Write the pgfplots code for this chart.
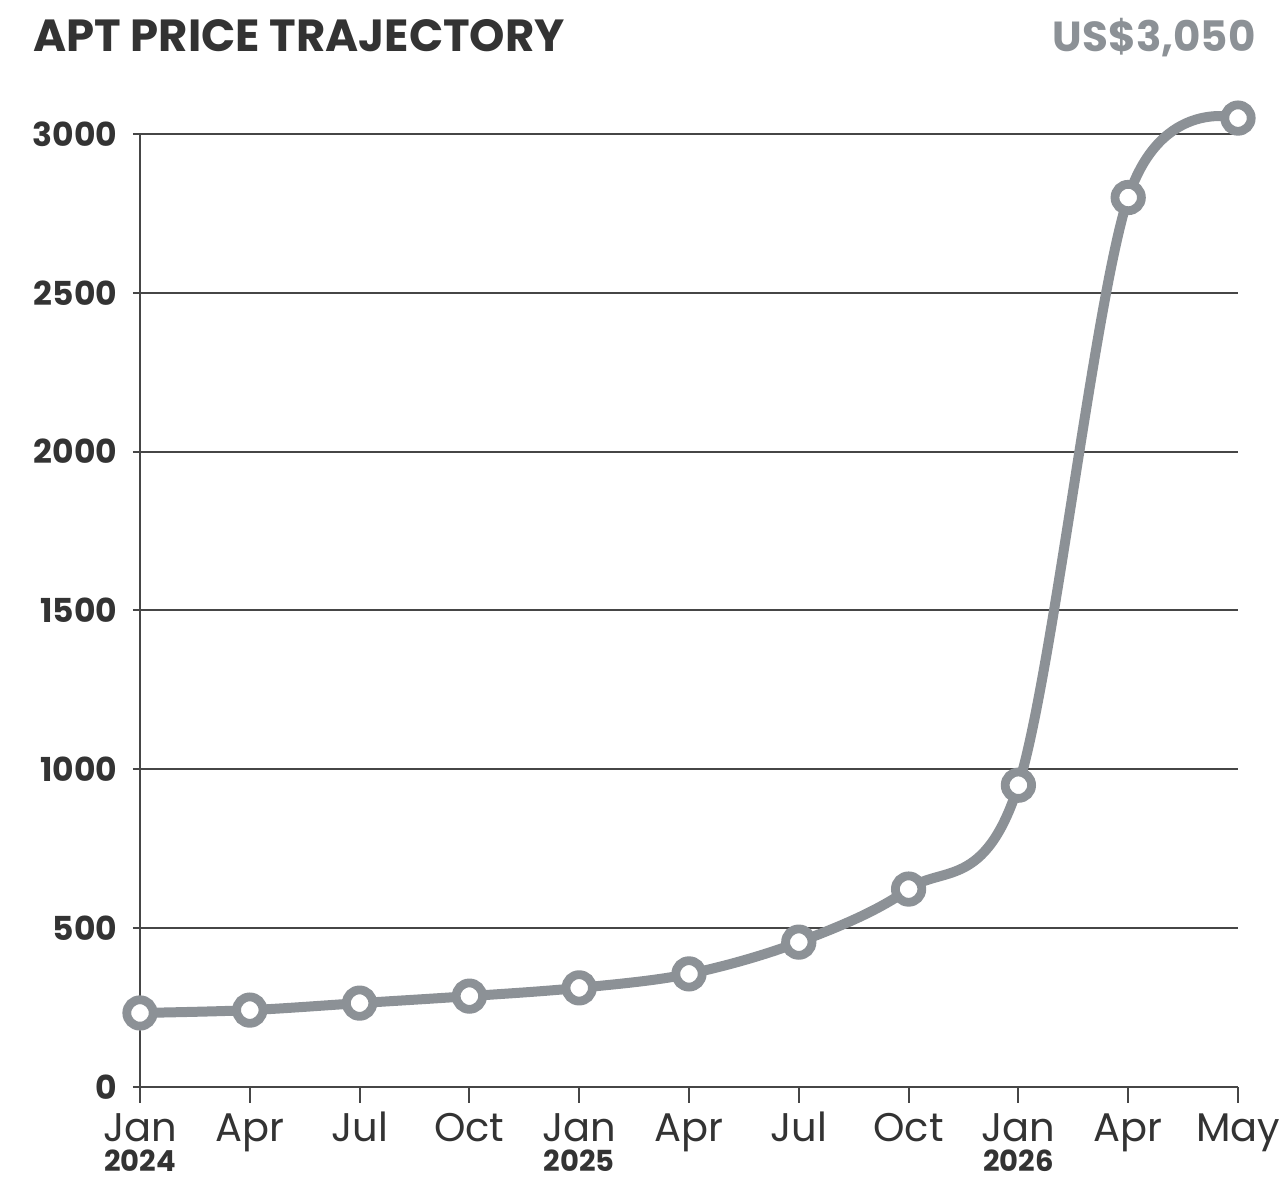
\documentclass[border=0pt]{standalone}
\usepackage{fontspec}
\setmainfont{Poppins}
\usepackage{pgfplots}
\pgfplotsset{compat=1.18}
\usetikzlibrary{calc}
\definecolor{linegray}{RGB}{140,145,150}
\definecolor{inkdark}{RGB}{51,51,51}
\definecolor{gridc}{RGB}{70,70,70}
\newcommand\yr[1]{{\fontsize{14.5}{15}\selectfont\bfseries#1}}
\begin{document}
\begin{tikzpicture}
\begin{axis}[
  width=549pt, height=476.5pt, scale only axis,
  xmin=0, xmax=10, ymin=0, ymax=3000,
  clip=false,
  axis lines*=left,
  axis line style={gridc, line width=1pt},
  ymajorgrids, major grid style={gridc, line width=1pt},
  ytick={0,500,...,3000},
  xtick={0,...,10},
  xticklabels={Jan\\[-1pt]\yr{2024},Apr\\[-1pt]\yr{},Jul\\[-1pt]\yr{},Oct\\[-1pt]\yr{},
    Jan\\[-1pt]\yr{2025},Apr\\[-1pt]\yr{},Jul\\[-1pt]\yr{},Oct\\[-1pt]\yr{},
    Jan\\[-1pt]\yr{2026},Apr\\[-1pt]\yr{},May\\[-1pt]\yr{}},
  tick align=outside,
  xtick style={gridc, line width=1pt, /pgfplots/major tick length=8pt},
  ytick style={gridc, line width=1pt, /pgfplots/major tick length=3.5pt},
  yticklabel style={font=\fontsize{16.5}{16.5}\selectfont\bfseries, text=inkdark,
    anchor=east, inner sep=0pt, xshift=-7pt},
  xticklabel style={font=\fontsize{20}{16}\selectfont, text=inkdark,
    align=center, anchor=base, inner sep=0pt, yshift=-38pt},
  /pgf/number format/assume math mode=true,
  /pgf/number format/1000 sep={},
  scaled y ticks=false,
]
\addplot[linegray, line width=5pt, smooth, tension=0.55,
  mark=*, mark size=6.6pt,
  mark options={fill=white, draw=linegray, line width=4.4pt}]
  coordinates {
  (0,233) (1,242) (2,264) (3,286) (4,312) (5,356)
  (6,456) (7,623) (8,950) (9,2800) (10,3050)
  };
\coordinate (bl) at (rel axis cs:0,0);
\coordinate (tr) at (rel axis cs:1,1);
\end{axis}
\node[anchor=base west, inner sep=0pt, text=inkdark,
  font=\fontsize{22.5}{22.5}\selectfont\bfseries]
  at ($(bl|-tr)+(-53.5pt,41pt)$) {APT PRICE TRAJECTORY};
\node[anchor=base east, inner sep=0pt, text=linegray,
  font=\fontsize{21}{21}\selectfont\bfseries]
  at ($(tr)+(9pt,41pt)$) {US\$3,050};
\pgfresetboundingbox
\path[use as bounding box] ($(bl)+(-70pt,-47pt)$) rectangle ($(tr)+(21.5pt,67pt)$);
\end{tikzpicture}
\end{document}
